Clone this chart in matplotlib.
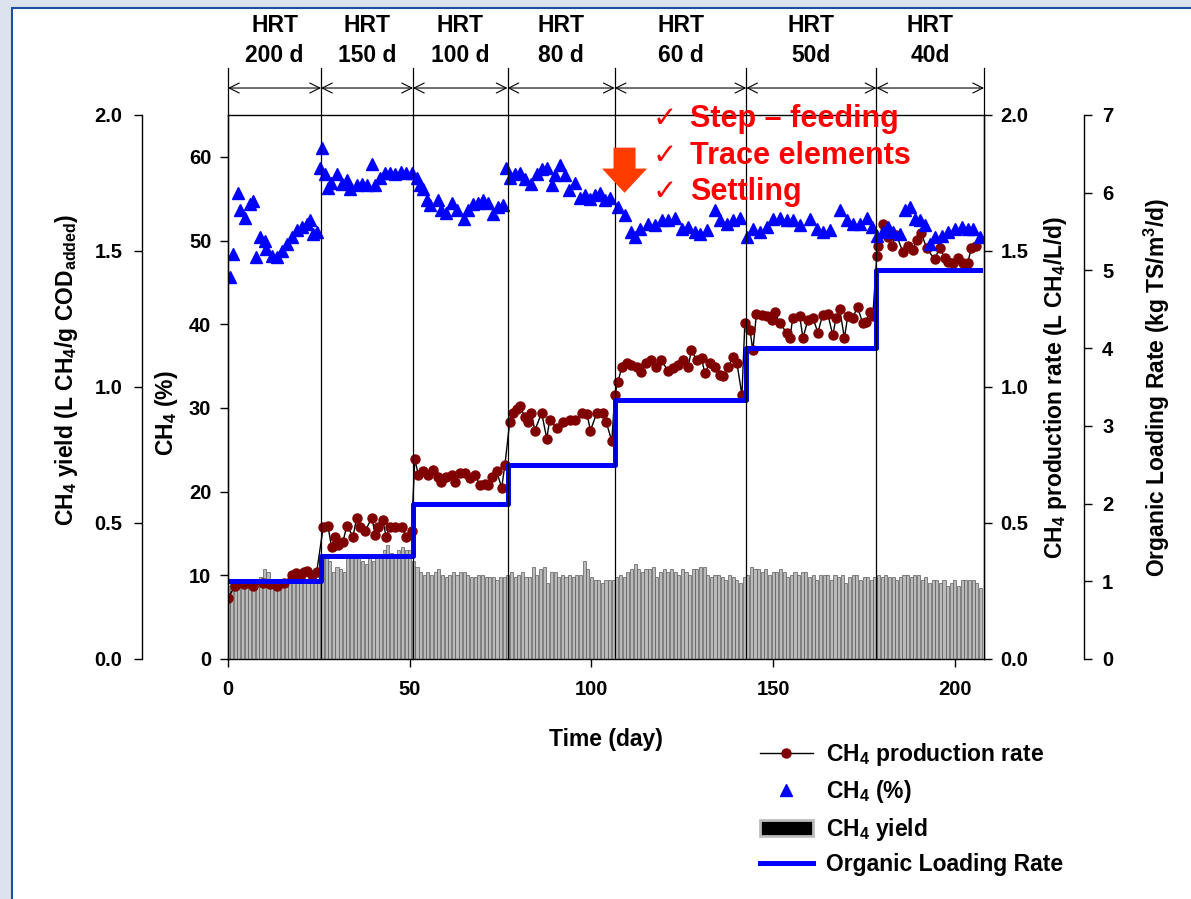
import numpy as np
import matplotlib
matplotlib.use('Agg')
import matplotlib.pyplot as plt
from matplotlib.lines import Line2D
from matplotlib.patches import Patch, Rectangle, FancyArrow

plt.rcParams['font.family'] = ['Liberation Sans', 'DejaVu Sans']
plt.rcParams['font.weight'] = 'bold'
plt.rcParams['axes.labelweight'] = 'bold'
plt.rcParams['mathtext.fontset'] = 'custom'
plt.rcParams['mathtext.rm'] = 'Liberation Sans:bold'
plt.rcParams['mathtext.it'] = 'Liberation Sans:bold'
plt.rcParams['mathtext.bf'] = 'Liberation Sans:bold'
plt.rcParams['axes.linewidth'] = 1.0

# HRT periods (day boundaries) and labels
hrt_bounds = [0, 25.6, 50.9, 76.9, 106.4, 142.6, 178.4, 208]
hrt_labels = ['HRT\n200 d', 'HRT\n150 d', 'HRT\n100 d', 'HRT\n80 d', 'HRT\n60 d', 'HRT\n50d', 'HRT\n40d']

# Organic loading rate (kg TS/m3/d), step changes
olr_days = [0.5, 25.6, 50.9, 76.9, 106.4, 142.6, 178.4, 206.8]
olr_vals = [1.0, 1.33, 2.0, 2.5, 3.33, 4.0, 5.0, 5.0]

# daily CH4 yield (L CH4/g COD added), one bar per day
yield_p1 = [0.27, 0.28, 0.27, 0.27, 0.26, 0.27, 0.26, 0.26, 0.27, 0.30, 0.33, 0.32, 0.27,
            0.26, 0.27, 0.28, 0.28, 0.28, 0.28, 0.28, 0.29, 0.28, 0.28, 0.29, 0.29, 0.29]
yield_p2 = [0.38, 0.37, 0.36, 0.32, 0.34, 0.33, 0.32, 0.37, 0.38, 0.37, 0.38, 0.36, 0.35,
            0.37, 0.36, 0.38, 0.37, 0.40, 0.42, 0.39, 0.38, 0.40, 0.41, 0.40, 0.40]
yield_p3 = [0.36, 0.34, 0.32, 0.31, 0.32, 0.31, 0.32, 0.33, 0.31, 0.30, 0.31, 0.32, 0.31,
            0.32, 0.32, 0.31, 0.30, 0.30, 0.31, 0.31, 0.30, 0.30, 0.30, 0.29, 0.30, 0.30]
yield_p4 = [0.31, 0.32, 0.30, 0.31, 0.32, 0.30, 0.30, 0.34, 0.31, 0.33, 0.34, 0.28, 0.32,
            0.32, 0.30, 0.31, 0.30, 0.31, 0.30, 0.31, 0.31, 0.36, 0.33, 0.30, 0.29, 0.29,
            0.28, 0.29, 0.29]
yield_p5 = [0.29, 0.30, 0.31, 0.30, 0.32, 0.33, 0.35, 0.33, 0.32, 0.33, 0.33, 0.34, 0.30,
            0.32, 0.33, 0.32, 0.33, 0.32, 0.31, 0.33, 0.32, 0.31, 0.33, 0.33, 0.34, 0.34,
            0.31, 0.30, 0.31, 0.31, 0.30, 0.29, 0.31, 0.30, 0.29, 0.28]
yield_p6 = [0.30, 0.31, 0.34, 0.33, 0.33, 0.32, 0.33, 0.31, 0.32, 0.32, 0.33, 0.32, 0.30,
            0.31, 0.32, 0.31, 0.32, 0.32, 0.30, 0.31, 0.29, 0.31, 0.31, 0.31, 0.29, 0.31,
            0.30, 0.31, 0.28, 0.30, 0.31, 0.31, 0.29, 0.30, 0.30, 0.29]
yield_p7 = [0.30, 0.31, 0.30, 0.31, 0.30, 0.30, 0.29, 0.30, 0.31, 0.31, 0.30, 0.31, 0.31,
            0.29, 0.30, 0.28, 0.29, 0.29, 0.28, 0.29, 0.27, 0.28, 0.29, 0.27, 0.29, 0.29,
            0.29, 0.29, 0.28, 0.26]
yield_vals = yield_p1 + yield_p2 + yield_p3 + yield_p4 + yield_p5 + yield_p6 + yield_p7
yield_days = np.arange(len(yield_vals))

# CH4 content (%)
ch4_days = [0.5, 1.4, 2.8, 3.3, 4.7, 6.0, 7.0, 7.7, 8.8, 10.2, 10.5, 12.0, 13.4, 14.8, 16.1,
            17.5, 19.0, 20.3, 21.7, 22.5, 23.4, 24.4,
            25.3, 25.8, 26.7, 27.5, 28.4, 29.9, 31.3, 32.7, 33.6, 35.4, 36.8, 38.2, 39.6, 40.5,
            41.9, 43.3, 44.6, 46.0, 47.5, 49.0, 50.6, 51.9,
            52.8, 53.7, 54.7, 55.6, 57.8, 58.7, 60.1, 61.6, 62.9, 64.8, 66.1, 67.5, 68.9, 70.2,
            71.6, 73.0, 74.3, 75.7,
            76.6, 77.5, 78.9, 80.3, 81.7, 83.5, 84.9, 86.3, 87.7, 89.1, 90.0, 91.4, 92.8, 93.7,
            95.5, 96.9, 98.3, 99.7, 101.0, 102.4, 103.8, 105.2,
            107.4, 109.2, 111.0, 112.0, 113.3, 115.5, 117.4, 119.3, 121.0, 122.9, 124.8, 126.5,
            128.4, 129.8, 131.7, 133.9, 135.3, 137.2, 138.9, 140.8,
            142.7, 144.4, 146.3, 148.2, 149.9, 151.8, 153.7, 155.4, 157.3, 160.1, 162.0, 163.6,
            165.6, 168.3, 170.2, 171.9, 173.8, 175.7, 177.1,
            178.5, 180.1, 181.5, 182.9, 184.8, 186.2, 187.6, 188.9, 190.3, 191.7, 193.1, 194.4,
            196.4, 198.0, 200.0, 201.9, 203.5, 204.9, 206.8]
ch4_vals = [45.6, 48.4, 55.7, 53.6, 52.7, 54.4, 54.7, 48.0, 50.4, 50.0, 49.0, 48.2, 48.0, 48.8,
            49.6, 50.4, 51.2, 51.6, 52.0, 52.5, 50.8, 51.0,
            58.7, 61.0, 58.0, 56.3, 56.9, 58.0, 56.8, 57.2, 56.2, 56.6, 56.8, 56.6, 59.2, 56.6,
            57.5, 58.1, 58.1, 58.0, 58.2, 58.1, 58.1, 57.5,
            56.6, 56.2, 54.8, 54.2, 54.8, 53.6, 53.3, 54.5, 53.6, 52.6, 53.6, 54.4, 54.5, 54.8,
            54.5, 53.2, 54.0, 54.2,
            58.7, 57.5, 58.0, 58.1, 57.4, 56.8, 58.0, 58.6, 58.7, 56.6, 57.8, 59.0, 57.8, 56.0,
            56.9, 55.1, 55.4, 55.0, 55.4, 55.7, 54.8, 55.1,
            54.0, 53.0, 51.0, 50.4, 51.4, 52.0, 51.8, 52.4, 52.4, 52.7, 51.4, 51.6, 51.0, 50.8,
            51.2, 53.6, 52.4, 52.0, 52.4, 52.7,
            50.4, 51.4, 51.0, 51.6, 52.6, 52.7, 52.4, 52.4, 51.8, 52.6, 51.4, 51.0, 51.2, 53.6,
            52.4, 52.0, 52.0, 52.7, 51.6,
            50.6, 51.0, 51.6, 51.0, 50.8, 53.6, 54.0, 52.6, 52.4, 51.8, 49.6, 50.4, 50.6, 51.0,
            51.4, 51.6, 51.4, 51.4, 50.4]

# CH4 production rate (L CH4/L/d)
rate_days = [0.0, 2.0, 4.5, 7.0, 9.5, 11.5, 13.4, 15.5, 17.6, 18.6, 19.8, 20.8, 21.7, 23.0, 24.4,
             26.2, 27.5, 28.5, 29.4, 30.3, 31.6, 32.7, 34.4, 35.4, 36.3, 37.7, 39.6, 40.5, 41.4,
             42.6, 43.5, 44.6, 45.9, 47.8, 49.1, 50.5,
             51.4, 52.4, 53.7, 55.0, 56.4, 57.8, 58.7, 60.1, 61.6, 62.4, 63.8, 65.2, 66.6, 67.9,
             69.3, 70.7, 71.6, 72.6, 73.9, 75.3, 76.2,
             77.5, 78.4, 79.4, 80.3, 81.7, 82.6, 83.5, 84.4, 86.3, 87.7, 88.5, 90.4, 92.2, 94.1,
             95.5, 97.4, 98.8, 99.7, 101.5, 103.2, 104.1, 105.6,
             106.4, 107.3, 108.4, 109.7, 111.0, 112.4, 113.7, 115.1, 116.5, 117.8, 119.2, 121.0,
             122.5, 123.8, 125.2, 126.6, 127.5, 128.9, 130.3, 131.2, 132.6, 133.9, 135.3, 136.2,
             137.6, 139.0, 140.0, 141.4,
             142.2, 143.6, 144.4, 145.4, 146.9, 148.2, 149.6, 150.5, 151.8, 153.7, 154.6, 155.4,
             157.3, 158.2, 159.5, 160.9, 162.3, 163.6, 165.0, 166.4, 167.3, 168.3, 169.6, 170.5,
             171.9, 173.2, 174.6, 175.5, 176.5, 177.4,
             178.5, 178.8, 180.1, 181.5, 182.6, 183.9, 185.7, 187.0, 188.4, 189.5, 190.8, 192.2,
             194.4, 195.8, 197.2, 198.0, 199.4, 200.8, 202.2, 203.5, 204.5, 205.9]
rate_vals = [0.224, 0.27, 0.275, 0.27, 0.28, 0.275, 0.27, 0.28, 0.31, 0.315, 0.30, 0.32, 0.325,
             0.31, 0.32,
             0.485, 0.49, 0.41, 0.45, 0.42, 0.43, 0.49, 0.45, 0.52, 0.485, 0.47, 0.52, 0.455,
             0.485, 0.51, 0.45, 0.485, 0.485, 0.485, 0.45, 0.47,
             0.735, 0.675, 0.69, 0.675, 0.695, 0.67, 0.65, 0.67, 0.675, 0.65, 0.685, 0.685,
             0.665, 0.675, 0.64, 0.645, 0.64, 0.67, 0.69, 0.63, 0.715,
             0.87, 0.905, 0.92, 0.93, 0.89, 0.87, 0.905, 0.84, 0.905, 0.81, 0.88, 0.85, 0.87,
             0.88, 0.88, 0.905, 0.90, 0.84, 0.905, 0.905, 0.87, 0.80,
             0.97, 1.02, 1.075, 1.09, 1.08, 1.075, 1.055, 1.09, 1.10, 1.075, 1.10, 1.06, 1.07,
             1.08, 1.10, 1.075, 1.135, 1.10, 1.105, 1.05, 1.09, 1.075, 1.045, 1.04, 1.075, 1.11,
             1.09, 0.97,
             1.235, 1.21, 1.135, 1.27, 1.265, 1.26, 1.245, 1.275, 1.235, 1.20, 1.18, 1.255, 1.26,
             1.18, 1.245, 1.255, 1.20, 1.265, 1.27, 1.19, 1.255, 1.285, 1.18, 1.26, 1.255, 1.295,
             1.235, 1.24, 1.275, 1.26,
             1.48, 1.52, 1.60, 1.55, 1.52, 1.56, 1.495, 1.52, 1.505, 1.54, 1.565, 1.51, 1.47,
             1.51, 1.475, 1.46, 1.455, 1.475, 1.455, 1.455, 1.51, 1.52]

notes = ['Step \u2013 feeding', 'Trace elements', 'Settling']

W, H = 1191, 899
fig = plt.figure(figsize=(W / 100, H / 100), dpi=100)
fig.patch.set_facecolor('#dce3ef')
fig.add_artist(Rectangle((12 / W, -0.01), 1.1, 1 - 8 / H + 0.01, transform=fig.transFigure,
                         facecolor='white', edgecolor='#1f4f9f', lw=1.5, zorder=-1))

ax = fig.add_axes([228 / W, 1 - 659 / H, 756 / W, 544 / H])
ax_yield = ax.twinx()
ax_rate = ax.twinx()
ax_olr = ax.twinx()
for z, a in enumerate([ax_yield, ax_rate, ax_olr, ax]):
    a.set_zorder(z + 1)
    a.patch.set_visible(False)
    for s in a.spines.values():
        s.set_visible(False)

# bars - CH4 yield
ax_yield.bar(yield_days, yield_vals, width=0.85, color='#bababa', edgecolor='#5a5a5a', lw=0.5)
ax_yield.set_ylim(0, 2.0)
ax_yield.yaxis.set_ticks_position('left')
ax_yield.yaxis.set_label_position('left')
ax_yield.spines['left'].set_visible(True)
ax_yield.spines['left'].set_position(('outward', 62))
ax_yield.set_yticks([0, 0.5, 1.0, 1.5, 2.0])
ax_yield.set_yticklabels(['%.1f' % v for v in [0, 0.5, 1.0, 1.5, 2.0]])
ax_yield.tick_params(axis='y', direction='out', length=6, width=1, labelsize=14.5, pad=8)
ax_yield.set_ylabel('CH$_4$ yield (L CH$_4$/g COD$_{added}$)', fontsize=16.5)
ax_yield.yaxis.set_label_coords(-0.196, 0.531)

# CH4 production rate
ax_rate.plot(rate_days, rate_vals, '-', color='black', lw=1, marker='o', ms=6.5,
             mfc='#800000', mec='#800000')
ax_rate.set_ylim(0, 2.0)
ax_rate.spines['right'].set_visible(True)
ax_rate.set_yticks([0, 0.5, 1.0, 1.5, 2.0])
ax_rate.set_yticklabels(['%.1f' % v for v in [0, 0.5, 1.0, 1.5, 2.0]])
ax_rate.tick_params(axis='y', direction='out', length=6, width=1, labelsize=14.5, pad=6)
ax_rate.set_ylabel('CH$_4$ production rate (L CH$_4$/L/d)', fontsize=16.5)
ax_rate.yaxis.set_label_coords(1.077, 0.5)

# organic loading rate
ax_olr.step(olr_days, olr_vals, where='post', color='#0000ff', lw=3.6)
ax_olr.set_ylim(0, 7)
ax_olr.spines['right'].set_visible(True)
ax_olr.spines['right'].set_position(('outward', 72))
ax_olr.set_yticks(range(0, 8))
ax_olr.tick_params(axis='y', direction='out', length=6, width=1, labelsize=14.5, pad=7)
ax_olr.set_ylabel('Organic Loading Rate (kg TS/m$^3$/d)', fontsize=16.5)
ax_olr.yaxis.set_label_coords(1.209, 0.5)

# CH4 %
ax.plot(ch4_days, ch4_vals, '^', color='#0000ff', ms=9, ls='none')
ax.set_xlim(0, 208)
ax.set_ylim(0, 65)
for side in ['left', 'top', 'bottom']:
    ax.spines[side].set_visible(True)
ax.set_xticks([0, 50, 100, 150, 200])
ax.set_yticks(range(0, 70, 10))
ax.tick_params(axis='y', direction='out', length=6, width=1, labelsize=14.5, pad=6)
ax.tick_params(axis='x', direction='out', length=6, width=1, labelsize=14.5, pad=9)
ax.set_ylabel('CH$_4$ (%)', fontsize=16.5)
ax.yaxis.set_label_coords(-0.0635, 0.452)
ax.set_xlabel('Time (day)', fontsize=16.5)
ax.xaxis.set_label_coords(0.5, -0.127)

# HRT boundaries, arrows and labels
trans = ax.get_xaxis_transform()
for b in hrt_bounds:
    ax.plot([b, b], [0, 1.086], transform=trans, color='black', lw=0.9, clip_on=False)
for i, lab in enumerate(hrt_labels):
    b0, b1 = hrt_bounds[i], hrt_bounds[i + 1]
    ax.annotate('', xy=(b1, 1.0496), xytext=(b0, 1.0496), xycoords=trans, textcoords=trans,
                arrowprops=dict(arrowstyle='<->', lw=0.8, shrinkA=0, shrinkB=0,
                                mutation_scale=18), annotation_clip=False)
    ax.text((b0 + b1) / 2, 1.137, lab, transform=trans, ha='center', va='center',
            fontsize=16.5, linespacing=1.35)

# operational change marker
ax.add_patch(FancyArrow(109.1, 61.1, 0, -5.4, width=6.06, head_width=12.4, head_length=2.9,
                        length_includes_head=True, color='#ff3c00', lw=0, zorder=5))
for note, yv in zip(notes, [63.6, 59.2, 54.8]):
    ax.text(120.2, yv, '\u2713', color='red', fontsize=21, fontweight='normal',
            family='DejaVu Sans', ha='center', va='baseline', clip_on=False, zorder=6)
    ax.text(127.1, yv, note, color='red', fontsize=22, ha='left', va='baseline',
            clip_on=False, zorder=6)

handles = [
    Line2D([], [], color='black', lw=1, marker='o', ms=6.5, mfc='#800000', mec='#800000'),
    Line2D([], [], color='#0000ff', marker='^', ms=9, ls='none'),
    Patch(facecolor='black', edgecolor='#bdbdbd', lw=2),
    Line2D([], [], color='#0000ff', lw=3.6),
]
labels = ['CH$_4$ production rate', 'CH$_4$ (%)', 'CH$_4$ yield', 'Organic Loading Rate']
fig.legend(handles, labels, loc='upper left', bbox_to_anchor=(760 / W, 1 - 741 / H),
           frameon=False, prop={'weight': 'bold', 'size': 16.5}, handlelength=2.3,
           handletextpad=0.6, labelspacing=0.45, borderpad=0, borderaxespad=0)

fig.savefig('out.png', dpi=100, facecolor=fig.get_facecolor())
